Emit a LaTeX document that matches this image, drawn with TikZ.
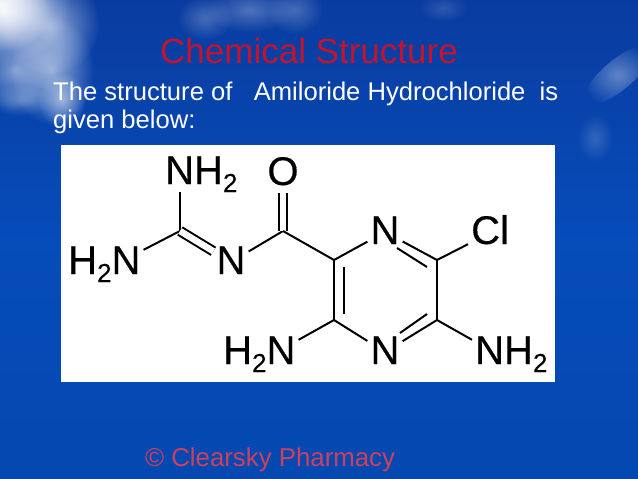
\documentclass[tikz,border=0pt]{standalone}
\usepackage{fontspec}
\setmainfont{Liberation Sans}
\newfontfamily\atomfont[FakeBold=0.3]{Liberation Sans}
\usetikzlibrary{fadings}
\newcommand{\subtwo}{\raisebox{-8pt}{\fontsize{26}{26}\selectfont 2}}
\tikzset{
  atomlabel/.style={inner xsep=3pt, inner ysep=0pt, text height=24pt, text depth=0pt, anchor=base, font=\atomfont\fontsize{40}{40}\selectfont, text=black},
  bondline/.style={line width=2pt, black},
  doublebond/.style={bondline, double=white, double distance=6.5pt},
  slidetext/.style={anchor=base west, inner sep=0pt, font=\fontsize{25.6}{25.6}\selectfont},
  cloudpuff/.style={white, path fading=cloudfade}
}
\tikzfading[name=cloudfade, inner color=transparent!30, outer color=transparent!100]
\definecolor{skytop}{RGB}{10,60,160}
\definecolor{skymid}{RGB}{6,76,186}
\definecolor{skylow}{RGB}{4,72,176}
\begin{document}
\begin{tikzpicture}[x=1pt,y=-1pt]
  \useasboundingbox (0,0) rectangle (638,479);
  % sky
  \fill[top color=skytop, bottom color=skymid] (0,0) rectangle (638,240);
  \fill[top color=skymid, bottom color=skylow] (0,240) rectangle (638,479);
  % clouds
  \fill[cloudpuff] (0,5) ellipse (70 and 60);
  \fill[cloudpuff] (0,5) ellipse (55 and 48);
  \fill[cloudpuff] (5,10) ellipse (45 and 40);
  \fill[cloudpuff, opacity=.8] (50,25) ellipse (50 and 50);
  \fill[cloudpuff, opacity=.8] (52,70) ellipse (42 and 55);
  \fill[cloudpuff, opacity=.7] (15,70) ellipse (40 and 40);
  \fill[cloudpuff, opacity=.7] (62,100) ellipse (24 and 28);
  \fill[cloudpuff, opacity=.4] (20,100) ellipse (32 and 16);
  \fill[cloudpuff, opacity=.35] (205,18) ellipse (28 and 22);
  \fill[cloudpuff, opacity=.4] (250,10) ellipse (45 and 22);
  \fill[cloudpuff, opacity=.35] (295,10) ellipse (28 and 24);
  \fill[cloudpuff, opacity=.2] (443,8) ellipse (25 and 14);
  \fill[cloudpuff, rotate around={40:(618,75)}, opacity=.5] (618,75) ellipse (42 and 15);
  \fill[cloudpuff, opacity=.25] (595,138) ellipse (18 and 24);
  % texts
  \node[slidetext, text={rgb,255:red,195;green,20;blue,45}, font=\fontsize{35}{35}\selectfont] (title) at (160,63) {Chemical Structure};
  \node[slidetext, text=white] (introa) at (53,100) {The structure of\ \ \ Amiloride Hydrochloride\ \ is};
  \node[slidetext, text=white] (introb) at (53,128) {given below:};
  \node[slidetext, text={rgb,255:red,205;green,65;blue,95}, font=\fontsize{25.8}{25.8}\selectfont] (credit) at (145,466) {© Clearsky Pharmacy};
  % white panel
  \fill[white] (61,145) rectangle (555,382);
  % vertices
  \coordinate (cg) at (180,231);
  \coordinate (cc) at (283,231);
  \coordinate (ca) at (334,260);
  \coordinate (cb) at (334,320);
  \coordinate (cd) at (437,320);
  \coordinate (ce) at (437,260);
  \coordinate (ila) at (344,267);
  \coordinate (ilb) at (344,314);
  \coordinate (ita) at (397,248);
  \coordinate (itb) at (427,267);
  \coordinate (iba) at (400,333);
  \coordinate (ibb) at (427,314);
  % atoms
  \node[atomlabel, anchor=base west] (nhtop) at (162,184) {NH\subtwo};
  \node[atomlabel] (oxy) at (283,185) {O};
  \node[atomlabel, anchor=base west] (hnleft) at (65,274) {H\subtwo N};
  \node[atomlabel] (nim) at (231,274) {N};
  \node[atomlabel] (ntop) at (385,244) {N};
  \node[atomlabel, anchor=base west] (clr) at (468,244) {Cl};
  \node[atomlabel, anchor=base west] (hnlow) at (220,364) {H\subtwo N};
  \node[atomlabel] (nlow) at (385,364) {N};
  \node[atomlabel, anchor=base west] (nhlow) at (472,364) {NH\subtwo};
  % bonds
  \draw[bondline, shorten >=8pt] (cg) -- (cg |- nhtop.south);
  \draw[bondline] (cg) -- (hnleft.north east);
  \draw[doublebond] (cg) -- (nim);
  \draw[bondline] (nim) -- (cc);
  \draw[doublebond, shorten >=8pt] (cc) -- (oxy);
  \draw[bondline] (cc) -- (ca);
  \draw[bondline] (ca) -- (ntop);
  \draw[bondline] (ntop) -- (ce);
  \draw[bondline] (ce) -- (cd);
  \draw[bondline] (cd) -- (nlow);
  \draw[bondline] (nlow) -- (cb);
  \draw[bondline] (cb) -- (ca);
  \draw[bondline] (ila) -- (ilb);
  \draw[bondline] (ita) -- (itb);
  \draw[bondline] (iba) -- (ibb);
  \draw[bondline] (ce) -- (clr.south west);
  \draw[bondline] (cd) -- (nhlow.north west);
  \draw[bondline] (cb) -- (hnlow.north east);
\end{tikzpicture}
\end{document}
